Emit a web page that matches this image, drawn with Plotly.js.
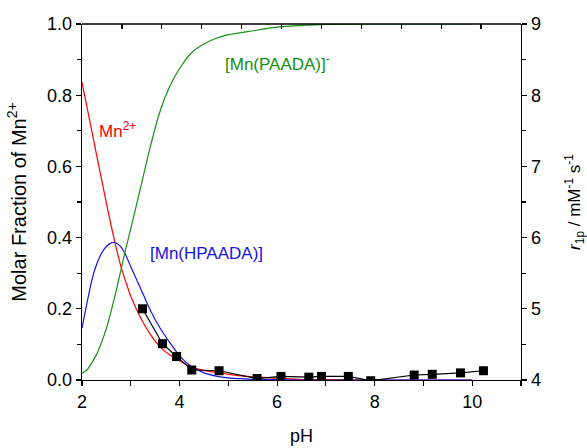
<!DOCTYPE html>
<html>
<head>
<meta charset="utf-8">
<script src="https://cdn.plot.ly/plotly-3.0.1.min.js"></script>
<style>html,body{margin:0;padding:0;background:#fff;}#chart{width:587px;height:448px;}</style>
</head>
<body>
<div id="chart"></div>
<script>
// Speciation curves (molar fraction vs pH)
const pHCurve = [2.0,2.1,2.2,2.3,2.4,2.5,2.6,2.7,2.8,2.9,3.0,3.2,3.4,3.6,3.8,4.0,4.25,4.5,4.75,5.0,5.5,6.0,6.5,7.0,8.0,9.0,10.0];
const mnFree  = [0.836,0.768,0.700,0.632,0.564,0.497,0.432,0.372,0.318,0.275,0.235,0.175,0.128,0.093,0.070,0.054,0.036,0.027,0.021,0.016,0.009,0.005,0.002,0.001,0,0,0];
const mnHL    = [0.146,0.215,0.280,0.325,0.356,0.375,0.385,0.385,0.373,0.350,0.318,0.258,0.196,0.146,0.105,0.068,0.037,0.020,0.011,0.006,0.002,0.001,0,0,0,0,0];
const mnL     = [0.019,0.028,0.048,0.072,0.105,0.145,0.195,0.250,0.310,0.370,0.425,0.540,0.655,0.755,0.825,0.875,0.920,0.944,0.960,0.970,0.981,0.991,0.996,0.999,1.0,1.0,1.0];

// Relaxivity data (r1p vs pH)
const pHData = [3.24,3.65,3.94,4.25,4.81,5.59,6.08,6.65,6.91,7.46,7.92,8.81,9.18,9.76,10.23];
const r1p    = [5.00,4.51,4.33,4.14,4.13,4.02,4.05,4.04,4.05,4.05,3.99,4.07,4.08,4.10,4.13];

const labelMn = 'Mn<sup>2+</sup>';
const labelHL = '[Mn(HPAADA)]';
const labelL  = '[Mn(PAADA)]<sup>-</sup>';

const RED = 'rgb(255,0,0)', BLUE = 'rgb(20,20,230)', GREEN = 'rgb(20,145,20)';
const FONT = 'Liberation Sans, Arial, sans-serif';

const traces = [
  {x: pHCurve, y: mnFree, type:'scatter', mode:'lines', line:{color:RED, width:1.2, shape:'spline', smoothing:0.6}, hoverinfo:'skip'},
  {x: pHCurve, y: mnHL, type:'scatter', mode:'lines', line:{color:BLUE, width:1.2, shape:'spline', smoothing:0.6}, hoverinfo:'skip'},
  {x: pHCurve, y: mnL, type:'scatter', mode:'lines', line:{color:GREEN, width:1.2, shape:'spline', smoothing:0.6}, hoverinfo:'skip'},
  {x: pHData, y: r1p, yaxis:'y2', type:'scatter', mode:'lines+markers', line:{color:'#000', width:1.2}, marker:{symbol:'square', size:9, color:'#000'}},
  // placeholder trace (no drawn marks) so the top tick axis is rendered
  {x: [null], y: [null], xaxis:'x2', yaxis:'y', type:'scatter', mode:'lines', line:{width:0}, hoverinfo:'skip'}
];

const axisCommon = {showline:true, linecolor:'#000', linewidth:1.3, showgrid:false, zeroline:false, tickcolor:'#000', tickfont:{family:FONT, size:18, color:'#000'}};

const layout = {
  width:587, height:448,
  margin:{l:82, r:66, t:24, b:68},
  paper_bgcolor:'#fff', plot_bgcolor:'#fff',
  showlegend:false,
  font:{family:FONT, color:'#000'},
  xaxis: Object.assign({}, axisCommon, {
    range:[2,11], dtick:2, tick0:2, ticks:'outside', ticklen:5, tickwidth:1.2,
    minor:{dtick:1, tick0:2, ticks:'outside', ticklen:5, tickwidth:1.2, tickcolor:'#000'},
    title:{text:'pH', font:{family:FONT, size:18, color:'#000'}, standoff:18}
  }),
  xaxis2: {overlaying:'x', anchor:'y', side:'top', range:[0,11], autorange:false, dtick:1, tick0:0, ticks:'inside', ticklen:5, tickwidth:1.2, tickcolor:'#000', showticklabels:false, showline:false, showgrid:false, zeroline:false},
  yaxis: Object.assign({}, axisCommon, {
    range:[0,1], dtick:0.2, tickformat:'.1f', ticks:'outside', ticklen:5, tickwidth:1.2,
    minor:{dtick:0.1, ticks:'outside', ticklen:4, tickwidth:1.2, tickcolor:'#000'},
    title:{text:'Molar Fraction of Mn<sup>2+</sup>', font:{family:FONT, size:20, color:'#000'}, standoff:15}
  }),
  yaxis2: Object.assign({}, axisCommon, {
    overlaying:'y', side:'right', range:[4,9], dtick:1, ticks:'outside', ticklen:5, tickwidth:1.2,
    minor:{dtick:0.5, ticks:'outside', ticklen:4, tickwidth:1.2, tickcolor:'#000'},
    title:{text:'<i>r</i><sub>1p</sub> / mM<sup>-1</sup> s<sup>-1</sup>', font:{family:FONT, size:17, color:'#000'}, standoff:28}
  }),
  // top frame border of the plot area
  shapes:[
    {type:'line', xref:'paper', yref:'paper', x0:0, x1:1, y0:1, y1:1, line:{color:'#000', width:1.3}, layer:'above'}
  ],
  annotations:[
    {x:2.72, y:0.703, xref:'x', yref:'y', text:labelMn, showarrow:false, font:{family:FONT, size:17, color:RED}},
    {x:4.56, y:0.354, xref:'x', yref:'y', text:labelHL, showarrow:false, font:{family:FONT, size:17, color:BLUE}},
    {x:6.0, y:0.891, xref:'x', yref:'y', text:labelL, showarrow:false, font:{family:FONT, size:17, color:GREEN}}
  ]
};

Plotly.newPlot('chart', traces, layout, {displayModeBar:false, staticPlot:true});
</script>
</body>
</html>
